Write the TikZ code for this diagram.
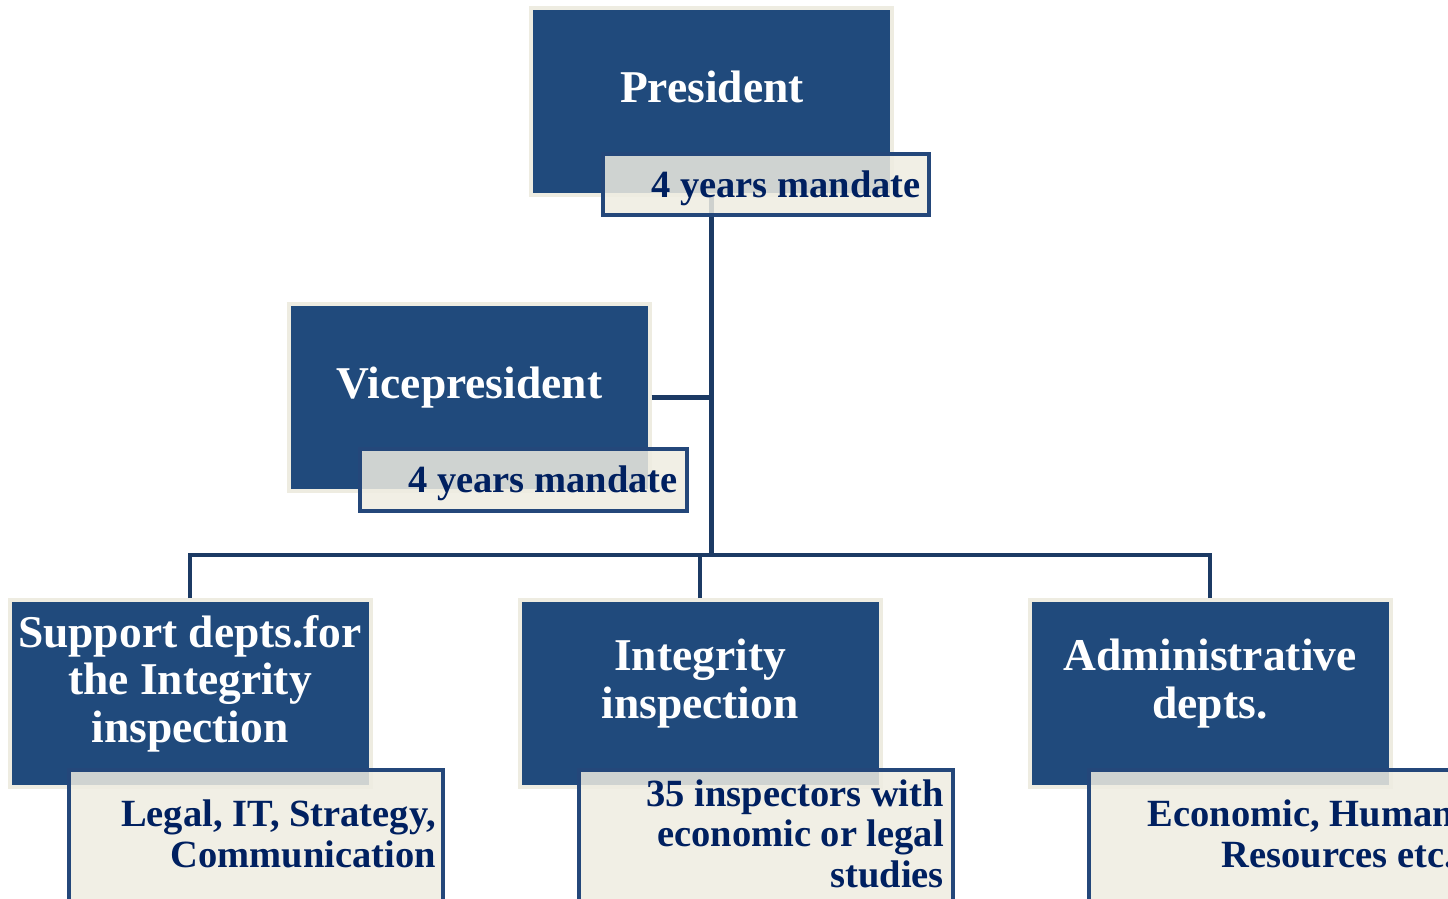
\documentclass[tikz,border=0pt]{standalone}
\usepackage{fontspec}
\setmainfont{Liberation Serif}
\usepackage{xcolor}
\usepackage{tikz}
\usetikzlibrary{positioning}

\definecolor{boxblue}{RGB}{32,74,124}
\definecolor{boxbeige}{RGB}{238,236,225}
\definecolor{tagblue}{RGB}{36,71,122}
\definecolor{inknavy}{RGB}{0,32,96}
\definecolor{linkblue}{RGB}{28,58,100}

\tikzset{
  chief/.style={rectangle, fill=boxblue, draw=boxbeige, line width=4pt,
    minimum width=361pt, minimum height=187pt, inner sep=0pt},
  tag/.style={rectangle, fill=boxbeige, fill opacity=0.85, draw=tagblue,
    line width=4pt, inner sep=0pt},
  title/.style={text=white, font=\bfseries\fontsize{45.5}{47.5}\selectfont, align=center, anchor=base, inner sep=0pt},
  tagtext/.style={text=inknavy, font=\bfseries\fontsize{38.5}{40.5}\selectfont, align=right, anchor=base east, inner sep=0pt},
  link/.style={draw=linkblue, line width=4.5pt}
}

\begin{document}
\begin{tikzpicture}[x=1pt, y=-1pt]
  \useasboundingbox (0,0) rectangle (1448,898);
  \clip (0,0) rectangle (1448,898);

  % main boxes
  \node[chief] (pres) at (711.5,101) {};
  \node[chief] (vp) at (469,397.5) {};
  \node[chief] (sup) at (190,693.5) {};
  \node[chief] (ins) at (700,693.5) {};
  \node[chief] (adm) at (1210,693.5) {};

  % connectors
  \coordinate (hub) at (711.5,555);
  \draw[link] (pres.south) -- (hub);
  \draw[link] (vp.east) -- (vp.east -| hub);
  \draw[link] (sup.north) |- (hub);
  \draw[link] (adm.north) |- (hub);
  \draw[link] (ins.north) -- (ins.north |- hub);

  % tags
  \node[tag, minimum width=326pt, minimum height=61pt] (prestag) at (766,184.5) {};
  \node[tag, minimum width=327pt, minimum height=62pt] (vptag) at (523.5,480) {};
  \node[tag, minimum width=374pt, minimum height=150pt] (suptag) at (256,844.5) {};
  \node[tag, minimum width=374pt, minimum height=150pt] (instag) at (766,844.5) {};
  \node[tag, minimum width=374pt, minimum height=150pt] (admtag) at (1276,844.5) {};

  % texts
  \node[title] (prestxt) at (712,102) {President};
  \node[title] (vptxt) at (469.5,398) {Vicepresident};
  \node[title] (suptxt) at (190,742) {Support depts.for\\the Integrity\\inspection};
  \node[title] (instxt) at (700,718) {Integrity\\inspection};
  \node[title] (admtxt) at (1210,718) {Administrative\\depts.};

  \node[tagtext] (prestagtxt) at (921,197) {4 years mandate};
  \node[tagtext] (vptagtxt) at (678,492) {4 years mandate};
  \node[tagtext] (suptagtxt) at (436,867) {Legal, IT, Strategy,\\Communication};
  \node[tagtext] (instagtxt) at (944,887) {35 inspectors with\\economic or legal\\studies};
  \node[tagtext] (admtagtxt) at (1454,867) {Economic, Human\\Resources etc.};
\end{tikzpicture}
\end{document}
